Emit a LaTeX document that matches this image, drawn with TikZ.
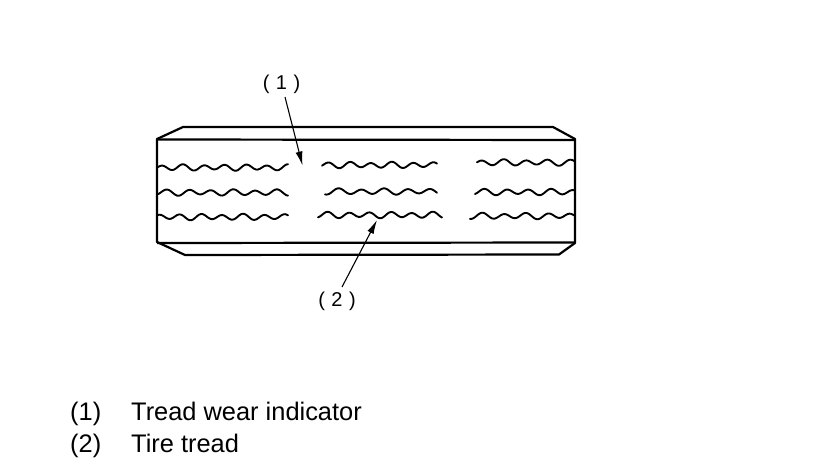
\documentclass[tikz,border=0pt]{standalone}
\usepackage{fontspec}
\setmainfont{Liberation Sans}
\usetikzlibrary{arrows.meta}
\newcommand{\wavyline}[5]{% x0,x1,y,phase,period
  \draw[waveline] plot[domain=#1:#2,samples=90,smooth] (\x,{#3+2.6*sin((\x-#1)/#5*360+#4)+0.7*sin((\x-#1)/(#5*1.7)*360+#4*2)});}
\tikzset{
  x=1pt,y=-1pt,
  tireline/.style={line width=2.2pt,black,line join=round},
  waveline/.style={line width=1.9pt,black,line cap=round},
  leader/.style={line width=1.1pt,black,-{Latex[length=14pt,width=7pt]}},
  callout/.style={font=\fontsize{20}{22}\selectfont,inner sep=0pt,anchor=center},
  legendtext/.style={font=\fontsize{25.4}{28}\selectfont,inner sep=0pt,anchor=base west},
}
\begin{document}
\begin{tikzpicture}
\useasboundingbox (0,0) rectangle (816,476);
% tire outline
\draw[tireline] (157,139) -- (183,127) -- (553,127) -- (575,139) -- (575,243)
  -- (559,254.5) -- (185,255) -- (157,242) -- cycle;
\draw[tireline] (157,139.5) -- (575,140);
\draw[tireline] (157,243) -- (575,242.5);
% tread grooves
\wavyline{158}{288}{167.5}{200}{21}
\wavyline{158}{288}{192.5}{120}{22}
\wavyline{158}{288}{217}{250}{21}
\wavyline{322}{437}{165}{150}{21}
\wavyline{325}{437}{191.5}{60}{23}
\wavyline{318}{442}{215}{100}{21}
\wavyline{477}{575}{162.5}{190}{22}
\wavyline{475}{574}{192}{110}{22}
\wavyline{470}{574}{216}{70}{22}
% callouts
\node[callout] (one) at (281.5,84) {\spaceskip=6.5pt\relax ( 1 )};
\node[callout] (two) at (337,301) {\spaceskip=6.5pt\relax ( 2 )};
\coordinate (oneTip) at (302.5,165.5);
\coordinate (twoTip) at (377,220);
\coordinate (oneStart) at (285,97);
\coordinate (twoStart) at (342,287);
\draw[leader] (oneStart) -- (oneTip);
\draw[leader] (twoStart) -- (twoTip);
% legend
\node[legendtext] (ln1) at (70,420) {(1)};
\node[legendtext] (lt1) at (131,420) {Tread wear indicator};
\node[legendtext] (ln2) at (70,452) {(2)};
\node[legendtext] (lt2) at (131,452) {Tire tread};
\end{tikzpicture}
\end{document}
